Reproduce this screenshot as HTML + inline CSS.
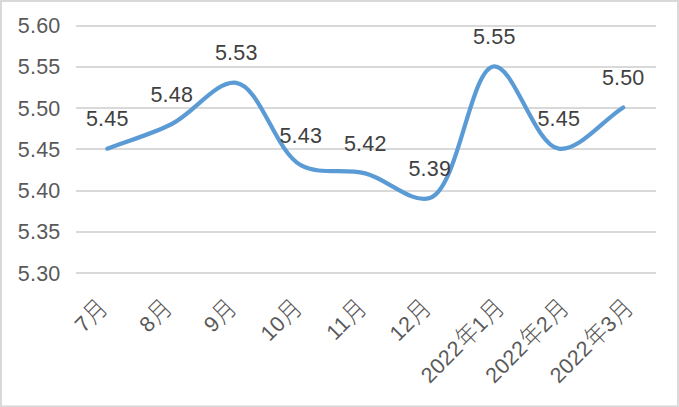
<!DOCTYPE html>
<html><head><meta charset="utf-8"><style>
html,body{margin:0;padding:0;background:#fff;}
body{width:679px;height:407px;overflow:hidden;}
svg{display:block;}
text{font-family:"Liberation Sans", "Noto Sans CJK SC", sans-serif;}
.ax{font-size:21.5px;letter-spacing:0.2px;fill:#595959;}
.dl{font-size:21.5px;letter-spacing:0.2px;fill:#404040;}
.xl{font-size:21.5px;fill:#595959;font-weight:300;}
.dg{letter-spacing:0.4px;}
.cj{font-size:25.20px;letter-spacing:0;}
</style></head><body>
<svg width="679" height="407" viewBox="0 0 679 407">
<rect x="0" y="0" width="679" height="407" fill="#fff"/>
<rect x="0" y="0" width="679" height="2" fill="#d9d9d9"/>
<rect x="0" y="0" width="2" height="407" fill="#d9d9d9"/>
<rect x="677" y="0" width="2" height="407" fill="#d9d9d9"/>
<rect x="0" y="405.4" width="679" height="1.6" fill="#d9d9d9"/>
<rect x="76" y="25" width="580" height="2" fill="#d9d9d9"/>
<rect x="76" y="66" width="580" height="2" fill="#d9d9d9"/>
<rect x="76" y="107" width="580" height="2" fill="#d9d9d9"/>
<rect x="76" y="148" width="580" height="2" fill="#d9d9d9"/>
<rect x="76" y="190" width="580" height="2" fill="#d9d9d9"/>
<rect x="76" y="231" width="580" height="2" fill="#d9d9d9"/>
<rect x="76" y="272" width="580" height="2" fill="#d9d9d9"/>
<text x="60.5" y="32.70" text-anchor="end" class="ax">5.60</text>
<text x="60.5" y="73.70" text-anchor="end" class="ax">5.55</text>
<text x="60.5" y="115.70" text-anchor="end" class="ax">5.50</text>
<text x="60.5" y="156.70" text-anchor="end" class="ax">5.45</text>
<text x="60.5" y="197.70" text-anchor="end" class="ax">5.40</text>
<text x="60.5" y="238.70" text-anchor="end" class="ax">5.35</text>
<text x="60.5" y="280.70" text-anchor="end" class="ax">5.30</text>
<path d="M107.29,148.70 C128.79,140.47 150.91,134.50 171.78,124.00 C193.98,112.84 216.44,80.02 236.27,82.83 C260.20,86.22 275.22,151.30 300.76,165.17 C319.97,175.59 344.13,168.10 365.25,173.40 C387.16,178.89 411.29,203.94 429.75,198.10 C458.75,188.93 470.08,67.59 494.23,66.37 C513.96,65.37 534.80,145.31 558.72,148.70 C578.56,151.51 601.72,121.26 623.21,107.53" fill="none" stroke="#5b9bd5" stroke-width="4.2" stroke-linecap="round" stroke-linejoin="round"/>
<text x="107.29" y="125.70" text-anchor="middle" class="dl">5.45</text>
<text x="171.78" y="101.70" text-anchor="middle" class="dl">5.48</text>
<text x="236.27" y="59.70" text-anchor="middle" class="dl">5.53</text>
<text x="300.76" y="142.70" text-anchor="middle" class="dl">5.43</text>
<text x="365.25" y="150.70" text-anchor="middle" class="dl">5.42</text>
<text x="429.75" y="175.70" text-anchor="middle" class="dl">5.39</text>
<text x="494.23" y="43.70" text-anchor="middle" class="dl">5.55</text>
<text x="558.72" y="125.70" text-anchor="middle" class="dl">5.45</text>
<text x="623.21" y="84.70" text-anchor="middle" class="dl">5.50</text>
<text transform="translate(108.79,309.90) rotate(-45)" text-anchor="end" class="xl"><tspan class="dg" dy="-0.90">7</tspan><tspan class="cj" dx="1.17" dy="0.90" textLength="20.88" lengthAdjust="spacingAndGlyphs">月</tspan></text>
<text transform="translate(173.28,309.90) rotate(-45)" text-anchor="end" class="xl"><tspan class="dg" dy="-0.90">8</tspan><tspan class="cj" dx="1.17" dy="0.90" textLength="20.88" lengthAdjust="spacingAndGlyphs">月</tspan></text>
<text transform="translate(237.77,309.90) rotate(-45)" text-anchor="end" class="xl"><tspan class="dg" dy="-0.90">9</tspan><tspan class="cj" dx="1.17" dy="0.90" textLength="20.88" lengthAdjust="spacingAndGlyphs">月</tspan></text>
<text transform="translate(303.26,309.90) rotate(-45)" text-anchor="end" class="xl"><tspan class="dg" dy="-0.90">10</tspan><tspan class="cj" dx="1.17" dy="0.90" textLength="20.88" lengthAdjust="spacingAndGlyphs">月</tspan></text>
<text transform="translate(367.75,309.90) rotate(-45)" text-anchor="end" class="xl"><tspan class="dg" dy="-0.90">11</tspan><tspan class="cj" dx="1.17" dy="0.90" textLength="20.88" lengthAdjust="spacingAndGlyphs">月</tspan></text>
<text transform="translate(432.25,309.90) rotate(-45)" text-anchor="end" class="xl"><tspan class="dg" dy="-0.90">12</tspan><tspan class="cj" dx="1.17" dy="0.90" textLength="20.88" lengthAdjust="spacingAndGlyphs">月</tspan></text>
<text transform="translate(505.43,309.70) rotate(-45)" text-anchor="end" class="xl"><tspan class="dg" dy="-0.90">2022</tspan><tspan class="cj" dx="1.17" dy="0.90" textLength="20.88" lengthAdjust="spacingAndGlyphs">年</tspan><tspan class="dg" dx="0.40" dy="-0.90">1</tspan><tspan class="cj" dx="1.17" dy="0.90" textLength="20.88" lengthAdjust="spacingAndGlyphs">月</tspan></text>
<text transform="translate(569.92,309.70) rotate(-45)" text-anchor="end" class="xl"><tspan class="dg" dy="-0.90">2022</tspan><tspan class="cj" dx="1.17" dy="0.90" textLength="20.88" lengthAdjust="spacingAndGlyphs">年</tspan><tspan class="dg" dx="0.40" dy="-0.90">2</tspan><tspan class="cj" dx="1.17" dy="0.90" textLength="20.88" lengthAdjust="spacingAndGlyphs">月</tspan></text>
<text transform="translate(634.41,309.70) rotate(-45)" text-anchor="end" class="xl"><tspan class="dg" dy="-0.90">2022</tspan><tspan class="cj" dx="1.17" dy="0.90" textLength="20.88" lengthAdjust="spacingAndGlyphs">年</tspan><tspan class="dg" dx="0.40" dy="-0.90">3</tspan><tspan class="cj" dx="1.17" dy="0.90" textLength="20.88" lengthAdjust="spacingAndGlyphs">月</tspan></text>
</svg>
</body></html>
